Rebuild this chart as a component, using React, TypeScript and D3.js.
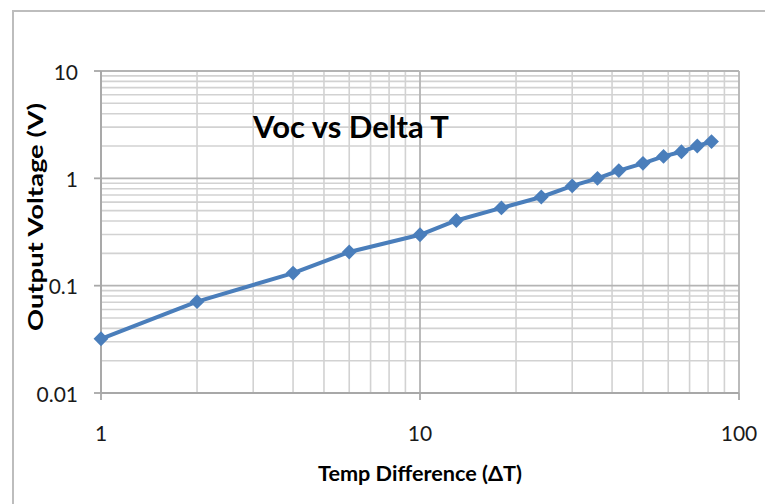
import React from "react";
import * as d3 from "d3";

// Temperature difference (ΔT) and measured open-circuit voltage (V)
const deltaT = [1, 2, 4, 6, 10, 13, 18, 24, 30, 36, 42, 50, 58, 66, 74, 82];
const vocVolts = [0.032, 0.071, 0.131, 0.206, 0.298, 0.405, 0.53, 0.67, 0.85, 1.0, 1.18, 1.38, 1.6, 1.77, 2.0, 2.2];

const xMajorTicks = [1, 10, 100];
const yMajorTicks = [0.01, 0.1, 1, 10];
const xTickLabels = ["1", "10", "100"];
const yTickLabels = ["0.01", "0.1", "1", "10"];

const chartTitle = "Voc vs Delta T";
const xAxisTitle = "Temp Difference (ΔT)";
const yAxisTitle = "Output Voltage (V)";

const W = 765;
const H = 504;
const plot = { left: 101, right: 739, top: 71, bottom: 393 };

const FONT = "Lato, 'Open Sans', sans-serif";
const LINE_BLUE = "#4a7ebb";

function minorTicks(lo: number, hi: number): number[] {
  const out: number[] = [];
  for (let p = lo; p < hi; p *= 10) {
    for (let k = 2; k <= 9; k++) out.push(p * k);
  }
  return out;
}

export default function App() {
  const x = d3.scaleLog().domain([1, 100]).range([plot.left, plot.right]);
  const y = d3.scaleLog().domain([0.01, 10]).range([plot.bottom, plot.top]);

  const xMinor = minorTicks(1, 100);
  const yMinor = minorTicks(0.01, 10);

  const line = d3
    .line<number>()
    .x((_, i) => x(deltaT[i]))
    .y((v) => y(v));

  const diamond = d3.symbol().type(d3.symbolSquare).size(110)();

  const minorStroke = "#d2d2d2";
  const majorStroke = "#b4b4b4";
  const axisStroke = "#a8a8a8";

  return (
    <svg
      width={W}
      height={H}
      viewBox={`0 0 ${W} ${H}`}
      style={{ position: "absolute", left: 0, top: 0, background: "#fff" }}
    >
      <rect x={0} y={0} width={W} height={H} fill="#fff" />
      {/* chart frame */}
      <rect x={13} y={11} width={W} height={H} fill="#fff" stroke="#bdbdbd" strokeWidth={2} />

      {/* minor gridlines */}
      <g stroke={minorStroke} strokeWidth={1.6}>
        {xMinor.map((v) => (
          <line key={`xm${v}`} x1={x(v)} x2={x(v)} y1={plot.top} y2={plot.bottom} />
        ))}
        {yMinor.map((v) => (
          <line key={`ym${v}`} x1={plot.left} x2={plot.right} y1={y(v)} y2={y(v)} />
        ))}
      </g>

      {/* major gridlines */}
      <g stroke={majorStroke} strokeWidth={1.8}>
        {xMajorTicks.map((v) => (
          <line key={`xM${v}`} x1={x(v)} x2={x(v)} y1={plot.top} y2={plot.bottom} />
        ))}
        {yMajorTicks.map((v) => (
          <line key={`yM${v}`} x1={plot.left} x2={plot.right} y1={y(v)} y2={y(v)} />
        ))}
      </g>

      {/* axes with outside tick marks */}
      <g stroke={axisStroke} strokeWidth={1.8}>
        <line x1={plot.left} x2={plot.left} y1={plot.top} y2={plot.bottom} />
        <line x1={plot.left} x2={plot.right} y1={plot.bottom} y2={plot.bottom} />
        {yMajorTicks.map((v) => (
          <line key={`yt${v}`} x1={plot.left - 7} x2={plot.left} y1={y(v)} y2={y(v)} />
        ))}
        {xMajorTicks.map((v) => (
          <line key={`xt${v}`} x1={x(v)} x2={x(v)} y1={plot.bottom} y2={plot.bottom + 7} />
        ))}
      </g>

      {/* tick labels */}
      <g fontFamily={FONT} fontSize={21} fill="#1a1a1a">
        {yMajorTicks.map((v, i) => (
          <text key={`yl${v}`} x={78} y={y(v)} textAnchor="end" dominantBaseline="central">
            {yTickLabels[i]}
          </text>
        ))}
        {xMajorTicks.map((v, i) => (
          <text key={`xl${v}`} x={x(v)} y={432} textAnchor="middle" dominantBaseline="central">
            {xTickLabels[i]}
          </text>
        ))}
      </g>

      {/* series */}
      <path d={line(vocVolts) ?? ""} fill="none" stroke={LINE_BLUE} strokeWidth={4} strokeLinejoin="round" />
      <g fill={LINE_BLUE}>
        {vocVolts.map((v, i) => (
          <path
            key={`pt${i}`}
            d={diamond ?? ""}
            transform={`translate(${x(deltaT[i])},${y(v)}) rotate(45)`}
          />
        ))}
      </g>

      {/* titles */}
      <text x={351} y={138} textAnchor="middle" fontFamily={FONT} fontWeight={700} fontSize={31} fill="#000">
        {chartTitle}
      </text>
      <text
        x={420}
        y={481}
        textAnchor="middle"
        fontFamily={FONT}
        fontWeight={700}
        fontSize={21}
        textLength={204}
        lengthAdjust="spacingAndGlyphs"
        fill="#000"
      >
        {xAxisTitle}
      </text>
      <text
        transform={`translate(35,217) rotate(-90)`}
        textAnchor="middle"
        dominantBaseline="central"
        fontFamily={FONT}
        fontWeight={700}
        fontSize={20}
        textLength={228}
        lengthAdjust="spacingAndGlyphs"
        fill="#000"
      >
        {yAxisTitle}
      </text>
    </svg>
  );
}
